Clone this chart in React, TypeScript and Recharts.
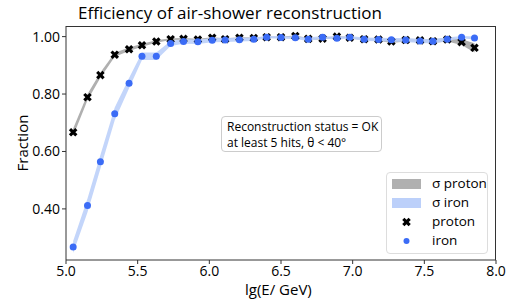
import { Area, ComposedChart, Scatter, XAxis, YAxis } from 'recharts';

// lg(E/GeV) bin centres
const energies = [
  5.05, 5.15, 5.24, 5.34, 5.44, 5.53, 5.63, 5.73, 5.82, 5.92, 6.02, 6.11, 6.21, 6.31, 6.4,
  6.5, 6.6, 6.69, 6.79, 6.89, 6.98, 7.08, 7.18, 7.27, 7.37, 7.47, 7.56, 7.66, 7.76, 7.85,
];
const protonEff = [
  0.667, 0.789, 0.866, 0.937, 0.956, 0.97, 0.983, 0.991, 0.992, 0.99, 0.996, 0.991, 0.996, 0.995, 0.998,
  0.998, 1.002, 0.992, 0.993, 1.0, 0.996, 0.991, 0.99, 0.983, 0.988, 0.987, 0.984, 0.99, 0.981, 0.961,
];
const protonSigma = [
  0.013, 0.011, 0.009, 0.007, 0.006, 0.005, 0.004, 0.003, 0.003, 0.003, 0.002, 0.003, 0.002, 0.002, 0.002,
  0.002, 0.002, 0.003, 0.003, 0.002, 0.003, 0.003, 0.004, 0.005, 0.005, 0.005, 0.006, 0.007, 0.01, 0.016,
];
const ironEff = [
  0.267, 0.412, 0.564, 0.731, 0.838, 0.932, 0.932, 0.976, 0.983, 0.982, 0.987, 0.988, 0.989, 0.991, 0.998,
  0.997, 0.996, 0.991, 0.998, 0.994, 0.998, 0.991, 0.99, 0.989, 0.988, 0.985, 0.984, 0.991, 0.998, 0.995,
];
const ironSigma = [
  0.021, 0.024, 0.024, 0.022, 0.018, 0.013, 0.013, 0.009, 0.008, 0.008, 0.007, 0.007, 0.006, 0.006, 0.004,
  0.004, 0.004, 0.006, 0.004, 0.005, 0.004, 0.006, 0.006, 0.006, 0.007, 0.007, 0.008, 0.006, 0.004, 0.005,
];
const xTicks = [5.0, 5.5, 6.0, 6.5, 7.0, 7.5, 8.0];
const yTicks = [0.4, 0.6, 0.8, 1.0];

const GRAY = '#b0b0b0';
const LIGHT_BLUE = '#bcd0fa';
const BLUE = '#3b6cf6';

const data = energies.map((x, i) => ({
  x,
  proton: protonEff[i],
  iron: ironEff[i],
  protonBand: [protonEff[i] - protonSigma[i], protonEff[i] + protonSigma[i]],
  ironBand: [ironEff[i] - ironSigma[i], ironEff[i] + ironSigma[i]],
}));

const Cross = ({ cx, cy }: any) => {
  if (cx == null || cy == null) return null;
  const a = 4.3;
  const w = 2.2;
  const d = `M${cx - a + w},${cy - a} L${cx},${cy - w} L${cx + a - w},${cy - a} L${cx + a},${cy - a + w} L${cx + w},${cy} L${cx + a},${cy + a - w} L${cx + a - w},${cy + a} L${cx},${cy + w} L${cx - a + w},${cy + a} L${cx - a},${cy + a - w} L${cx - w},${cy} L${cx - a},${cy - a + w} Z`;
  return <path d={d} fill="#000" />;
};

const Dot = ({ cx, cy }: any) => {
  if (cx == null || cy == null) return null;
  return <circle cx={cx} cy={cy} r={3.5} fill={BLUE} />;
};

const tickStyle = { fontSize: 14, fill: '#000', fontFamily: '"Open Sans", sans-serif' };

const legendItems = [
  { label: 'σ proton', kind: 'patch', color: GRAY },
  { label: 'σ iron', kind: 'patch', color: LIGHT_BLUE },
  { label: 'proton', kind: 'cross', color: '#000' },
  { label: 'iron', kind: 'dot', color: BLUE },
];

export default function App() {
  return (
    <div
      style={{
        position: 'absolute',
        left: 0,
        top: 0,
        width: 509,
        height: 300,
        background: '#fff',
        fontFamily: '"Open Sans", sans-serif',
        whiteSpace: 'nowrap',
      }}
    >
      <div style={{ position: 'absolute', left: 78, top: 3, fontSize: 17, lineHeight: '20px' }}>
        Efficiency of air-shower reconstruction
      </div>
      <ComposedChart
        width={509}
        height={300}
        data={data}
        margin={{ top: 26, right: 13, bottom: 0, left: 0 }}
      >
        <XAxis
          dataKey="x"
          type="number"
          domain={[5, 8]}
          ticks={xTicks}
          tickFormatter={(v: number) => v.toFixed(1)}
          tick={tickStyle}
          tickSize={4}
          height={40}
          stroke="#333"
          allowDataOverflow
        />
        <YAxis
          type="number"
          domain={[0.222, 1.037]}
          ticks={yTicks}
          tickFormatter={(v: number) => v.toFixed(2)}
          tick={tickStyle}
          tickSize={4}
          width={66}
          stroke="#333"
          allowDataOverflow
        />
        <Area
          dataKey="protonBand"
          type="linear"
          stroke="none"
          fill={GRAY}
          fillOpacity={1}
          isAnimationActive={false}
        />
        <Area
          dataKey="ironBand"
          type="linear"
          stroke="none"
          fill={LIGHT_BLUE}
          fillOpacity={0.9}
          isAnimationActive={false}
        />
        <Scatter dataKey="proton" shape={<Cross />} isAnimationActive={false} />
        <Scatter dataKey="iron" shape={<Dot />} isAnimationActive={false} />
      </ComposedChart>

      {/* top and right spines */}
      <div
        style={{
          position: 'absolute',
          left: 66,
          top: 26,
          width: 430,
          height: 234,
          borderTop: '1px solid #333',
          borderRight: '1px solid #333',
          boxSizing: 'border-box',
          pointerEvents: 'none',
        }}
      />

      <div
        style={{
          position: 'absolute',
          left: -8,
          top: 133,
          width: 60,
          height: 20,
          lineHeight: '20px',
          fontSize: 15,
          textAlign: 'center',
          transform: 'rotate(-90deg)',
        }}
      >
        Fraction
      </div>
      <div style={{ position: 'absolute', left: 245, top: 280, fontSize: 15, lineHeight: '18px' }}>
        lg(E/ GeV)
      </div>

      <div
        style={{
          position: 'absolute',
          left: 221,
          top: 116,
          width: 161,
          height: 36,
          border: '1px solid #ccc',
          borderRadius: 4,
          boxSizing: 'border-box',
          fontSize: 12,
          lineHeight: '15.5px',
          padding: '2px 0 0 5px',
          background: '#fff',
        }}
      >
        <div>Reconstruction status = OK</div>
        <div>at least 5 hits, θ &lt; 40°</div>
      </div>

      <div
        style={{
          position: 'absolute',
          left: 386,
          top: 172,
          width: 102,
          height: 82,
          border: '1px solid #ddd',
          borderRadius: 4,
          boxSizing: 'border-box',
          background: '#fff',
          fontSize: 13.5,
        }}
      >
        {legendItems.map((e, i) => (
          <div
            key={e.label}
            style={{ position: 'absolute', left: 0, top: 1 + i * 19, height: 19, width: 100 }}
          >
            <svg width={36} height={19} style={{ position: 'absolute', left: 4, top: 0 }}>
              {e.kind === 'patch' && <rect x={1} y={5} width={29} height={10} fill={e.color} />}
              {e.kind === 'cross' && <Cross cx={15.5} cy={10} />}
              {e.kind === 'dot' && <circle cx={15.5} cy={10} r={3} fill={e.color} />}
            </svg>
            <span style={{ position: 'absolute', left: 45, top: 0, lineHeight: '19px' }}>{e.label}</span>
          </div>
        ))}
      </div>
    </div>
  );
}
